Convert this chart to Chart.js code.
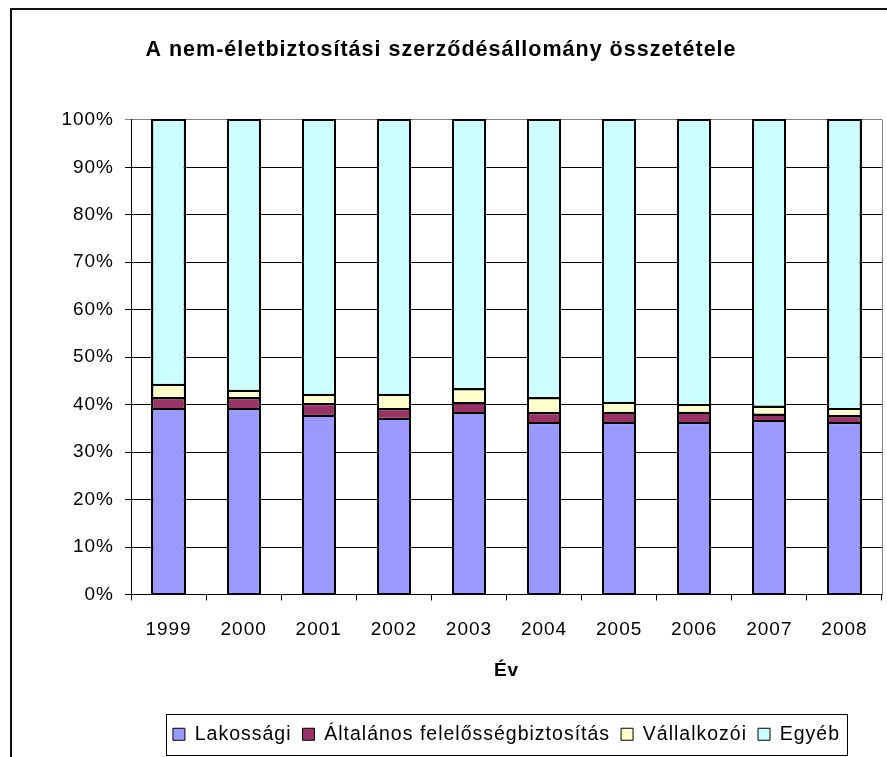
<!DOCTYPE html>
<html>
<head>
<meta charset="utf-8">
<title>A nem-életbiztosítási szerződésállomány összetétele</title>
<script src="https://cdn.jsdelivr.net/npm/chart.js@4.4.1/dist/chart.umd.min.js"></script>
<style>
  html, body { margin: 0; padding: 0; background: #fff; overflow: hidden; }
  #wrap { width: 887px; height: 757px; position: relative; }
</style>
</head>
<body>
<div id="wrap"><canvas id="chart" width="887" height="757"></canvas></div>
<script>
/*global Chart*/
var years = ['1999', '2000', '2001', '2002', '2003', '2004', '2005', '2006', '2007', '2008'];
var lakossagi = [39.0, 39.0, 37.7, 37.0, 38.2, 36.1, 36.1, 36.1, 36.5, 36.1];
var altalanos = [2.3, 2.3, 2.4, 2.0, 2.1, 2.1, 2.2, 2.2, 1.4, 1.4];
var vallalkozoi = [2.9, 1.6, 2.0, 3.1, 2.9, 3.1, 2.1, 1.6, 1.7, 1.6];
var egyeb = [55.8, 57.1, 57.9, 57.9, 56.8, 58.7, 59.6, 60.1, 60.4, 60.9];
var seriesNames = ['Lakossági', 'Általános felelősségbiztosítás', 'Vállalkozói', 'Egyéb'];
var yTicks = [0, 10, 20, 30, 40, 50, 60, 70, 80, 90, 100];

var FONT = "'Liberation Sans', Arial, sans-serif";

var makeSet = function(label, data, color) {
  return {
    label: label,
    data: data,
    backgroundColor: color,
    borderColor: '#000',
    borderWidth: 1,
    borderSkipped: false,
    inflateAmount: 0,
    barPercentage: 0.43,
    categoryPercentage: 1
  };
};

// the old Excel look: text drawn a bit wider apart
var spacing = {
  id: 'spacing',
  beforeUpdate: function(chart) { chart.ctx.letterSpacing = '1px'; },
  beforeDraw: function(chart) { chart.ctx.letterSpacing = '1px'; }
};

// even 2px black lines round each column and between its segments
var stackOutline = {
  id: 'stackOutline',
  afterDatasetsDraw: function(chart) {
    var n = chart.data.datasets.length;
    var bottomMeta = chart.getDatasetMeta(0);
    var topMeta = chart.getDatasetMeta(n - 1);
    var ctx = chart.ctx;
    ctx.save();
    ctx.strokeStyle = '#000';
    ctx.lineWidth = 2;
    bottomMeta.data.forEach(function(bar, i) {
      var left = Math.round(bar.x - bar.width / 2);
      var right = Math.round(bar.x + bar.width / 2);
      var top = Math.round(topMeta.data[i].y);
      var bottom = Math.round(bar.base);
      ctx.beginPath();
      for (var d = 0; d < n - 1; d++) {
        var y = Math.round(chart.getDatasetMeta(d).data[i].y);
        ctx.moveTo(left, y);
        ctx.lineTo(right, y);
      }
      ctx.stroke();
      ctx.strokeRect(left, top, right - left, bottom - top);
    });
    ctx.restore();
  }
};

// frame round the chart, grey plot border on the right, box round the legend
var decorations = {
  id: 'decorations',
  afterDraw: function(chart) {
    var ctx = chart.ctx;
    var area = chart.chartArea;
    ctx.save();
    ctx.strokeStyle = '#808080';
    ctx.lineWidth = 1;
    ctx.beginPath();
    ctx.moveTo(area.right + 0.5, area.top);
    ctx.lineTo(area.right + 0.5, area.bottom);
    ctx.stroke();

    var boxes = chart.legend.legendHitBoxes;
    if (boxes && boxes.length) {
      var first = boxes[0];
      var last = boxes[boxes.length - 1];
      var l = Math.round(first.left - 7) + 0.5;
      var r = Math.round(last.left + last.width + 7) + 0.5;
      var t = Math.round(chart.legend.top) + 0.5;
      var b = chart.height - 1.5;
      ctx.strokeStyle = '#000';
      ctx.strokeRect(l, t, r - l, b - t);
    }

    ctx.strokeStyle = '#111';
    ctx.lineWidth = 2;
    ctx.beginPath();
    ctx.moveTo(11, chart.height);
    ctx.lineTo(11, 9);
    ctx.lineTo(chart.width, 9);
    ctx.stroke();
    ctx.restore();
  }
};

var ctx = document.getElementById('chart').getContext('2d');
new Chart(ctx, {
  type: 'bar',
  data: {
    labels: years,
    datasets: [
      makeSet(seriesNames[0], lakossagi, '#9999FF'),
      makeSet(seriesNames[1], altalanos, '#993366'),
      makeSet(seriesNames[2], vallalkozoi, '#FFFFCC'),
      makeSet(seriesNames[3], egyeb, '#CCFFFF')
    ]
  },
  options: {
    responsive: false,
    animation: false,
    layout: { padding: { left: 0, right: 5, top: 0, bottom: 3 } },
    plugins: {
      title: {
        display: true,
        text: 'A nem-életbiztosítási szerződésállomány összetétele',
        color: '#000',
        font: { family: FONT, size: 21.5, weight: 'bold' },
        padding: { top: 37, bottom: 57 }
      },
      legend: {
        display: true,
        position: 'bottom',
        fullSize: false,
        labels: {
          color: '#000',
          font: { family: FONT, size: 19.5 },
          boxWidth: 12,
          boxHeight: 12,
          padding: 11
        }
      },
      tooltip: { enabled: false }
    },
    scales: {
      x: {
        stacked: true,
        offset: true,
        afterFit: function(scale) { scale.height = 119; },
        grid: {
          display: true,
          offset: true,
          drawOnChartArea: false,
          drawTicks: true,
          tickLength: 6,
          color: '#000'
        },
        border: { display: true, color: '#000', width: 1 },
        ticks: {
          color: '#000',
          font: { family: FONT, size: 19 },
          padding: 18,
          maxRotation: 0
        },
        title: {
          display: true,
          text: 'Év',
          color: '#000',
          font: { family: FONT, size: 19, weight: 'bold' },
          padding: { top: 0, bottom: 31 }
        }
      },
      y: {
        stacked: true,
        min: 0,
        max: 100,
        afterFit: function(scale) { scale.width = 131; },
        afterBuildTicks: function(scale) {
          scale.ticks = yTicks.map(function(v) { return { value: v }; });
        },
        grid: {
          color: function(c) { return c.tick && c.tick.value === 100 ? '#808080' : '#000'; },
          lineWidth: 1,
          drawTicks: true,
          tickLength: 6
        },
        border: { display: true, color: '#000', width: 1 },
        ticks: {
          color: '#000',
          font: { family: FONT, size: 19 },
          padding: 11,
          callback: function(v) { return v + '%'; }
        }
      }
    }
  },
  plugins: [spacing, stackOutline, decorations]
});
</script>
</body>
</html>
